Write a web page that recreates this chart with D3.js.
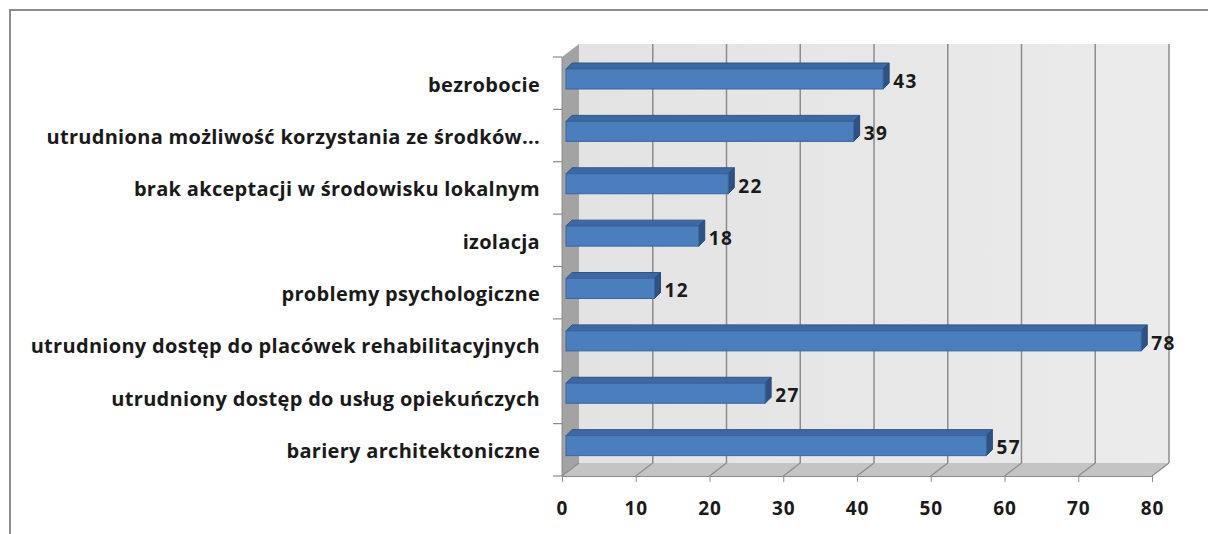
<!DOCTYPE html>
<html>
<head>
<meta charset="utf-8">
<script src="https://cdn.jsdelivr.net/npm/d3@7"></script>
<style>
  body { margin: 0; background: #fff; }
  text { font-family: "Open Sans", sans-serif; font-weight: bold; fill: #1a1a1a; }
</style>
</head>
<body>
<svg id="chart" width="1208" height="534"></svg>
<script>
// chart data, top category first
const categories = [
  'bezrobocie',
  'utrudniona możliwość korzystania ze środków...',
  'brak akceptacji w środowisku lokalnym',
  'izolacja',
  'problemy psychologiczne',
  'utrudniony dostęp do placówek rehabilitacyjnych',
  'utrudniony dostęp do usług opiekuńczych',
  'bariery architektoniczne'
];
const values = [43, 39, 22, 18, 12, 78, 27, 57];
const xTicks = [0, 10, 20, 30, 40, 50, 60, 70, 80];

let svg = d3.select('#chart');

// outer frame
svg.append('rect')
  .attr('x', 10).attr('y', 10)
  .attr('width', 1400).attr('height', 800)
  .attr('fill', '#fff')
  .attr('stroke', '#8c8c8c')
  .attr('stroke-width', 2);

// 3d depth offsets of the plot box
let depthX = 17, depthY = 13;
let plotTop = 57, plotBottom = 476;

let x = d3.scaleLinear().domain([0, 80]).range([562, 1152]);
let y = d3.scaleBand().domain(categories).range([plotTop, plotBottom]);

let defs = svg.append('defs');
let wallGrad = defs.append('linearGradient').attr('id', 'wall');
wallGrad.append('stop').attr('offset', '0%').attr('stop-color', '#e3e3e3');
wallGrad.append('stop').attr('offset', '100%').attr('stop-color', '#ebebeb');

// back wall
svg.append('rect')
  .attr('x', x(0) + depthX).attr('y', plotTop - depthY)
  .attr('width', x(80) - x(0)).attr('height', plotBottom - plotTop)
  .attr('fill', 'url(#wall)');

// side wall
svg.append('path')
  .attr('d', `M${x(0)},${plotTop} L${x(0)+depthX},${plotTop-depthY} L${x(0)+depthX},${plotBottom-depthY} L${x(0)},${plotBottom} Z`)
  .attr('fill', '#a3a3a3');

// floor
svg.append('path')
  .attr('d', `M${x(0)},${plotBottom} L${x(0)+depthX},${plotBottom-depthY} L${x(80)+depthX},${plotBottom-depthY} L${x(80)},${plotBottom} Z`)
  .attr('fill', '#c4c4c4');

// gridlines on back wall and floor
xTicks.forEach(t => {
  if (t > 0) {
    svg.append('line')
      .attr('x1', x(t) + depthX).attr('x2', x(t) + depthX)
      .attr('y1', plotTop - depthY).attr('y2', plotBottom - depthY)
      .attr('stroke', '#8c8c8c').attr('stroke-width', 1.5);
  }
  svg.append('line')
    .attr('x1', x(t)).attr('x2', x(t) + depthX)
    .attr('y1', plotBottom).attr('y2', plotBottom - depthY)
    .attr('stroke', '#8c8c8c').attr('stroke-width', 1.2);
});

// bottom axis
let xAxis = svg.append('g')
  .attr('transform', `translate(0,${plotBottom})`)
  .call(d3.axisBottom(x).tickValues(xTicks).tickSize(6).tickPadding(20));
xAxis.select('.domain').attr('stroke', '#8c8c8c');
xAxis.selectAll('.tick line').attr('stroke', '#8c8c8c');
xAxis.selectAll('text').style('font-size', '19px').style('letter-spacing', '1px').attr('fill', '#1a1a1a');

// left axis: boundary ticks and labels
let yAxis = svg.append('g')
  .attr('transform', `translate(${x(0) - 22},0)`)
  .call(d3.axisLeft(y).tickSize(0).tickPadding(0));
yAxis.select('.domain').remove();
yAxis.selectAll('text').style('font-size', '20px').style('letter-spacing', '0.3px')
  .attr('fill', '#1a1a1a').attr('dy', '0.42em');

let bounds = categories.map(c => y(c)).concat([plotBottom]);
svg.selectAll('.ytick').data(bounds).enter().append('line')
  .attr('x1', x(0) - 9).attr('x2', x(0))
  .attr('y1', d => d).attr('y2', d => d)
  .attr('stroke', '#8c8c8c').attr('stroke-width', 1.2);
svg.append('line')
  .attr('x1', x(0)).attr('x2', x(0))
  .attr('y1', plotTop).attr('y2', plotBottom)
  .attr('stroke', '#8c8c8c').attr('stroke-width', 1);

// bars
let barDx = 6, barDy = 6, barOff = 4, barH = 20;
let bars = svg.selectAll('.bar').data(values).enter().append('g');

bars.each(function(v, i) {
  let g = d3.select(this);
  let x0 = x(0) + barOff, x1 = x(v) + barOff;
  let y0 = y(categories[i]) + 12, y1 = y0 + barH;
  // top face
  g.append('path')
    .attr('d', `M${x0},${y0} L${x0+barDx},${y0-barDy} L${x1+barDx},${y0-barDy} L${x1},${y0} Z`)
    .attr('fill', '#3d68a3').attr('stroke', '#2f5587').attr('stroke-width', 1);
  // side face
  g.append('path')
    .attr('d', `M${x1},${y0} L${x1+barDx},${y0-barDy} L${x1+barDx},${y1-barDy} L${x1},${y1} Z`)
    .attr('fill', '#2e5282').attr('stroke', '#2a4b78').attr('stroke-width', 1);
  // front face
  g.append('rect')
    .attr('x', x0).attr('y', y0)
    .attr('width', x1 - x0).attr('height', barH)
    .attr('fill', '#4a7ebd').attr('stroke', '#3a65a0').attr('stroke-width', 1);
  // value label
  g.append('text')
    .attr('x', x1 + barDx + 4)
    .attr('y', (y0 + y1) / 2 + 2)
    .attr('dy', '0.36em')
    .style('font-size', '19px')
    .style('letter-spacing', '1.5px')
    .text(v);
});
</script>
</body>
</html>
